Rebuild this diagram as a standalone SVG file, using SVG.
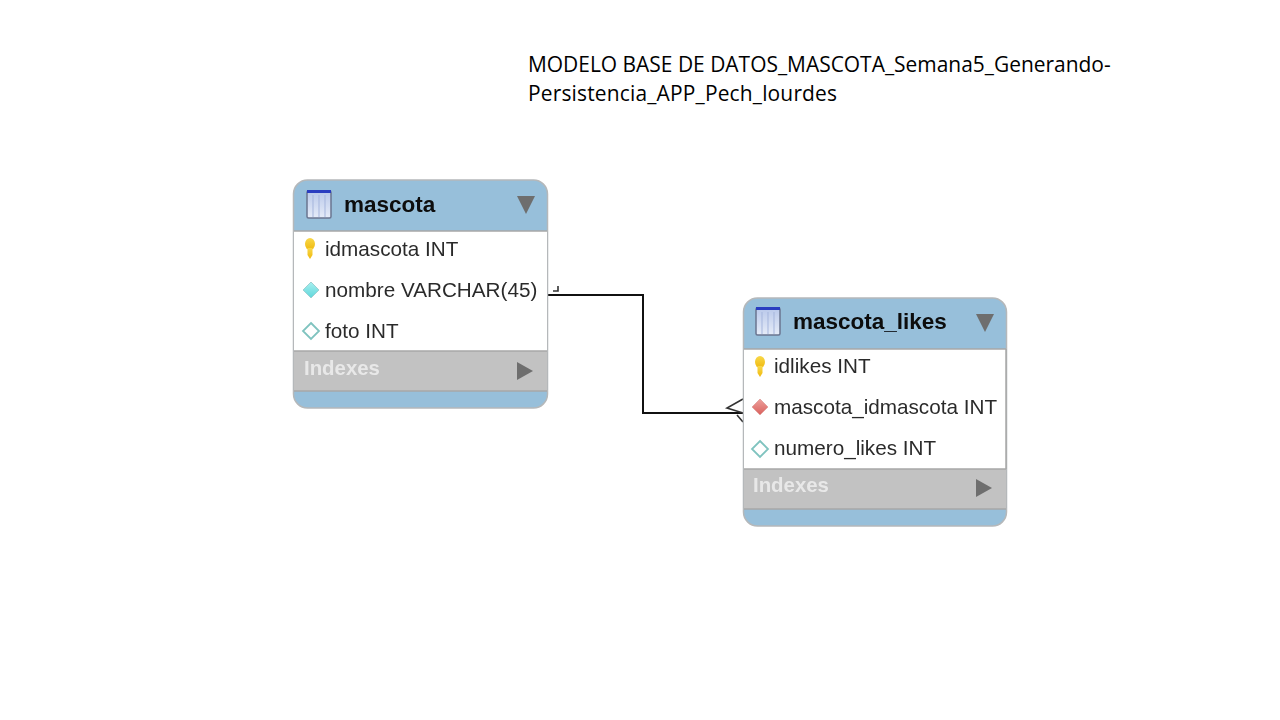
<svg xmlns="http://www.w3.org/2000/svg" width="1280" height="720" viewBox="0 0 1280 720">
<style>
text{font-family:"Liberation Sans",Arial,sans-serif}
.title{font-family:"Open Sans","Liberation Sans",sans-serif;font-size:20.95px;fill:#000}
.name{font-size:22.5px;font-weight:bold;fill:#0a0a0a}
.col{font-size:20.7px;fill:#2c2c2c}
.idx{font-size:20.4px;font-weight:bold;fill:#e8e8e8}
.frame{fill:#97bfda;stroke:#b5b8ba;stroke-width:1.5}
.body{fill:#fff}
.band{fill:#c2c2c2}
.sep{stroke:#a8a8a8;stroke-width:1.5}
.tri{fill:#6e6e6e}
.line{fill:none;stroke:#111;stroke-width:2}
.thin{fill:none;stroke:#333;stroke-width:1.6}
.key{fill:url(#keyFill)}
.pk{fill:url(#pkFill);stroke:#9fd0d2;stroke-width:1}
.open{fill:#fff;stroke:#7fc3bf;stroke-width:1.8}
.fk{fill:url(#fkFill);stroke:#e3a5a2;stroke-width:1}
.icon{fill:url(#iconFill);stroke:#6a7590;stroke-width:1.5}
.iconTop{fill:#2a3cc0}
.iconLn{stroke:#a5b5dc;stroke-width:1}
.soft{filter:url(#soft)}
</style>
<defs>
<filter id="soft" x="-5%" y="-5%" width="110%" height="110%"><feGaussianBlur stdDeviation="0.4"/></filter>
<linearGradient id="iconFill" x1="0" y1="0" x2="0" y2="1"><stop offset="0" stop-color="#b9c8ea"/><stop offset="1" stop-color="#e6ecf8"/></linearGradient>
<linearGradient id="keyFill" x1="0" y1="0" x2="0" y2="1"><stop offset="0" stop-color="#f8d84a"/><stop offset="1" stop-color="#f0b90e"/></linearGradient>
<linearGradient id="pkFill" x1="0" y1="0" x2="0" y2="1"><stop offset="0" stop-color="#a8f0f0"/><stop offset="1" stop-color="#5fd6da"/></linearGradient>
<linearGradient id="fkFill" x1="0" y1="0" x2="0" y2="1"><stop offset="0" stop-color="#eda09c"/><stop offset="1" stop-color="#d9605c"/></linearGradient>
<g id="tableIcon">
<rect class="icon" x="0" y="0" width="24" height="27" rx="1.5"/>
<rect class="iconTop" x="0" y="-1" width="24" height="3"/>
<path class="iconLn" d="M6 4V26M12 4V26M18 4V26"/>
</g>
<g id="keyIcon">
<ellipse class="key" cx="0" cy="-4" rx="5" ry="6"/>
<path class="key" d="M-2.5 0H2.5V7L0 11L-2.5 7Z"/>
</g>
</defs>
<text class="title" x="528" y="71.500">MODELO BASE DE DATOS_MASCOTA_Semana5_Generando-</text>
<text class="title" x="528" y="100.500" textLength="309">Persistencia_APP_Pech_lourdes</text>
<g id="connectors">
<path class="line" d="M548 295H643V413H744"/>
<path class="thin" d="M743 399L727 408L743 413M737 415L743 422"/>
<path class="thin" d="M553 291H558V286"/>
</g>
<g id="mascota" class="soft">
<rect class="frame" x="293.500" y="180" width="254" height="228" rx="14"/>
<rect class="body" x="294" y="231" width="253" height="120"/>
<rect class="band" x="294" y="351" width="253" height="40"/>
<path class="sep" d="M294 231H547M294 351H547M294 391H547"/>
<use href="#tableIcon" x="307" y="191"/>
<text class="name" x="344" y="212">mascota</text>
<path class="tri" d="M517 196H535L526 214Z"/>
<use href="#keyIcon" x="310" y="248"/>
<text class="col" x="325" y="256">idmascota INT</text>
<path class="pk" d="M311 282L319 290L311 298L303 290Z"/>
<text class="col" x="325" y="297">nombre VARCHAR(45)</text>
<path class="open" d="M311 323L319 331L311 339L303 331Z"/>
<text class="col" x="325" y="338">foto INT</text>
<text class="idx" x="304" y="375">Indexes</text>
<path class="tri" d="M517 362L533 371L517 380Z"/>
</g>
<g id="mascota_likes" class="soft">
<rect class="frame" x="743.500" y="298" width="263" height="228" rx="14"/>
<rect class="body" x="744" y="349" width="262" height="120"/>
<rect class="band" x="744" y="469" width="262" height="40"/>
<path class="sep" d="M744 349H1006M744 469H1006M744 509H1006M1006 349V469"/>
<use href="#tableIcon" x="756" y="308"/>
<text class="name" x="793" y="329">mascota_likes</text>
<path class="tri" d="M976 314H994L985 332Z"/>
<use href="#keyIcon" x="760" y="366"/>
<text class="col" x="774" y="373">idlikes INT</text>
<path class="fk" d="M760 399L768 407L760 415L752 407Z"/>
<text class="col" x="774" y="414">mascota_idmascota INT</text>
<path class="open" d="M760 441L768 449L760 457L752 449Z"/>
<text class="col" x="774" y="455">numero_likes INT</text>
<text class="idx" x="753" y="492">Indexes</text>
<path class="tri" d="M976 479L992 488L976 497Z"/>
</g>
</svg>
